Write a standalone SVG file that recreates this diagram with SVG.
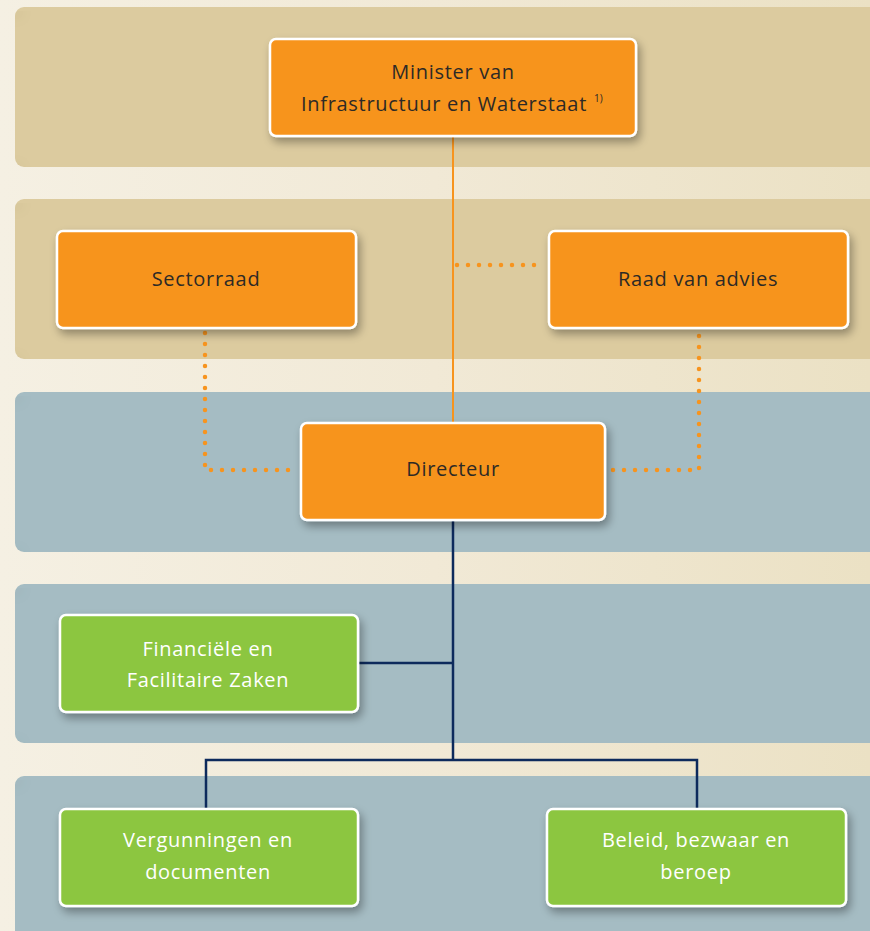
<svg xmlns="http://www.w3.org/2000/svg" width="870" height="931" viewBox="0 0 870 931">
<defs>
<linearGradient id="bg" x1="0" y1="0" x2="1" y2="0">
<stop offset="0" stop-color="#f5f0e3"/>
<stop offset="0.5" stop-color="#f1e9d6"/>
<stop offset="1" stop-color="#ebe1c4"/>
</linearGradient>
<filter id="ds" x="-20%" y="-20%" width="150%" height="160%">
<feGaussianBlur in="SourceAlpha" stdDeviation="5"/>
<feOffset dx="3" dy="5" result="b"/>
<feComponentTransfer><feFuncA type="linear" slope="0.35"/></feComponentTransfer>
<feMerge><feMergeNode/><feMergeNode in="SourceGraphic"/></feMerge>
</filter>
<filter id="inner" x="0" y="0" width="100%" height="100%">
<feFlood flood-color="#000" flood-opacity="0.4"/>
<feComposite in2="SourceAlpha" operator="out"/>
<feGaussianBlur stdDeviation="6"/>
<feOffset dx="0" dy="4" result="s"/>
<feComposite in="s" in2="SourceAlpha" operator="in" result="si"/>
<feMerge><feMergeNode in="SourceGraphic"/><feMergeNode in="si"/></feMerge>
</filter>
</defs>
<style>
.tan{fill:#dccb9f}
.blue{fill:#a5bcc3}
.or{fill:#f7941e;stroke:#fff;stroke-width:2.5}
.gr{fill:#8cc63f;stroke:#fff;stroke-width:2.5}
.t{font-family:"Open Sans","Noto Sans","DejaVu Sans",sans-serif;font-size:20px;text-anchor:middle;letter-spacing:0.7px}
.dk{fill:#2d2a26}
.wh{fill:#ffffff}
.sol{fill:none;stroke:#f7941e;stroke-width:2}
.dot{fill:none;stroke:#f7941e;stroke-width:4.5;stroke-linecap:round;stroke-dasharray:0 11}
.nv{fill:none;stroke:#0d2a5c;stroke-width:2.5}
</style>
<rect width="870" height="931" fill="url(#bg)"/>
<g id="bands">
<rect class="tan" x="15" y="7" width="880" height="160" rx="9" filter="url(#inner)"/>
<rect class="tan" x="15" y="199" width="880" height="160" rx="9" filter="url(#inner)"/>
<rect class="blue" x="15" y="392" width="880" height="160" rx="9" filter="url(#inner)"/>
<rect class="blue" x="15" y="584" width="880" height="159" rx="9" filter="url(#inner)"/>
<rect class="blue" x="15" y="776" width="880" height="170" rx="9" filter="url(#inner)"/>
</g>
<g id="connectors">
<line class="sol" x1="453" y1="136" x2="453" y2="423"/>
<line class="dot" x1="457" y1="265" x2="545" y2="265"/>
<polyline class="dot" points="205,333 205,470 297,470"/>
<polyline class="dot" points="699,336 699,470 611,470"/>
<polyline class="nv" points="453,520 453,760"/>
<line class="nv" x1="359" y1="663" x2="453" y2="663"/>
<polyline class="nv" points="206,808 206,760 697,760 697,808"/>
</g>
<g id="minister">
<rect class="or" x="270" y="39" width="366" height="97" rx="6" filter="url(#ds)"/>
<text class="t dk" x="453" y="79">Minister van</text>
<text class="t dk" x="444" y="111">Infrastructuur en Waterstaat</text>
<text class="dk" x="594" y="102" font-family="Open Sans, sans-serif" font-size="10">1)</text>
</g>
<g id="sectorraad">
<rect class="or" x="57" y="231" width="299" height="97" rx="6" filter="url(#ds)"/>
<text class="t dk" x="206" y="286">Sectorraad</text>
</g>
<g id="raad">
<rect class="or" x="549" y="231" width="299" height="97" rx="6" filter="url(#ds)"/>
<text class="t dk" x="698" y="286">Raad van advies</text>
</g>
<g id="directeur">
<rect class="or" x="301" y="423" width="304" height="97" rx="6" filter="url(#ds)"/>
<text class="t dk" x="453" y="476" font-size="16" letter-spacing="0.3">Directeur</text>
</g>
<g id="financiele">
<rect class="gr" x="60" y="615" width="298" height="97" rx="6" filter="url(#ds)"/>
<text class="t wh" x="208" y="656">Financiële en</text>
<text class="t wh" x="208" y="687">Facilitaire Zaken</text>
</g>
<g id="vergunningen">
<rect class="gr" x="60" y="809" width="298" height="97" rx="6" filter="url(#ds)"/>
<text class="t wh" x="208" y="847">Vergunningen en</text>
<text class="t wh" x="208" y="879">documenten</text>
</g>
<g id="beleid">
<rect class="gr" x="547" y="809" width="299" height="97" rx="6" filter="url(#ds)"/>
<text class="t wh" x="696" y="847">Beleid, bezwaar en</text>
<text class="t wh" x="696" y="879">beroep</text>
</g>
</svg>
